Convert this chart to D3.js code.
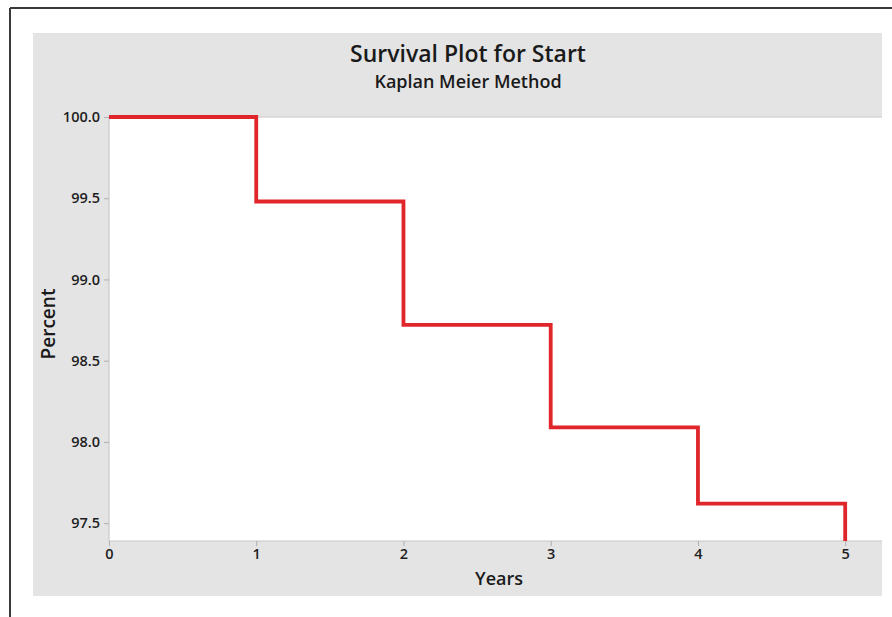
<!DOCTYPE html>
<html>
<head>
<meta charset="utf-8">
<script src="https://cdn.jsdelivr.net/npm/d3@7/dist/d3.min.js"></script>
<style>
  html, body { margin: 0; padding: 0; background: #fff; }
  svg { display: block; }
</style>
</head>
<body>
<svg id="chart" width="892" height="617"></svg>
<script>
// Data
const times = [0, 1, 2, 3, 4, 5];
const survival = [100.0, 99.48, 98.72, 98.09, 97.62, 97.0];
const xTicks = [0, 1, 2, 3, 4, 5];
const yTicks = [97.5, 98.0, 98.5, 99.0, 99.5, 100.0];
const titleText = "Survival Plot for Start";
const subtitleText = "Kaplan Meier Method";
const xLabel = "Years";
const yLabel = "Percent";

const svg = d3.select("#chart");
const font = "'Open Sans', 'Noto Sans', sans-serif";

// outer frame
svg.append("line").attr("x1", 10).attr("y1", 8).attr("x2", 892).attr("y2", 8)
  .attr("stroke", "#3a3a3a").attr("stroke-width", 2);
svg.append("line").attr("x1", 10).attr("y1", 8).attr("x2", 10).attr("y2", 617)
  .attr("stroke", "#3a3a3a").attr("stroke-width", 2);

// gray panel
svg.append("rect").attr("x", 33).attr("y", 33).attr("width", 849).attr("height", 563)
  .attr("fill", "#e4e4e4");

const plot = { left: 109, top: 117, right: 882, bottom: 541 };

const x = d3.scaleLinear().domain([0, 5.25]).range([plot.left, plot.right]);
const y = d3.scaleLinear().domain([97.39, 100.0]).range([plot.bottom, plot.top]);

svg.append("rect").attr("x", plot.left).attr("y", plot.top)
  .attr("width", plot.right - plot.left).attr("height", plot.bottom - plot.top)
  .attr("fill", "#ffffff");

svg.append("defs").append("clipPath").attr("id", "clip")
  .append("rect").attr("x", plot.left - 3).attr("y", plot.top - 3)
  .attr("width", plot.right - plot.left + 6).attr("height", plot.bottom - plot.top + 3);

// frame lines of plot
svg.append("line").attr("x1", plot.left).attr("x2", plot.right).attr("y1", plot.top).attr("y2", plot.top)
  .attr("stroke", "#c8c8c8").attr("stroke-width", 1.2);
svg.append("line").attr("x1", plot.left).attr("x2", plot.right).attr("y1", plot.bottom).attr("y2", plot.bottom)
  .attr("stroke", "#c8c8c8").attr("stroke-width", 1.2);
svg.append("line").attr("x1", plot.left).attr("x2", plot.left).attr("y1", plot.top).attr("y2", plot.bottom)
  .attr("stroke", "#c8c8c8").attr("stroke-width", 1.2);

// axes
const yAxis = d3.axisLeft(y).tickValues(yTicks).tickFormat(d3.format(".1f")).tickSize(5).tickPadding(4);
const gy = svg.append("g").attr("transform", `translate(${plot.left},0)`).call(yAxis);
gy.select(".domain").remove();
gy.selectAll(".tick line").attr("stroke", "#b0b0b0");
gy.selectAll(".tick text").attr("fill", "#1e1e1e").style("font-family", font)
  .style("font-size", "14.5px").style("font-weight", "600");

const xAxis = d3.axisBottom(x).tickValues(xTicks).tickFormat(d3.format("d")).tickSize(5).tickPadding(3);
const gx = svg.append("g").attr("transform", `translate(0,${plot.bottom})`).call(xAxis);
gx.select(".domain").remove();
gx.selectAll(".tick line").attr("stroke", "#b0b0b0");
gx.selectAll(".tick text").attr("fill", "#1e1e1e").style("font-family", font)
  .style("font-size", "14.5px").style("font-weight", "600");

// step line
const pts = times.map((t, i) => [t, survival[i]]);
const line = d3.line().x(d => x(d[0])).y(d => y(d[1])).curve(d3.curveStepAfter);
svg.append("path").datum(pts)
  .attr("clip-path", "url(#clip)")
  .attr("d", line)
  .attr("fill", "none").attr("stroke", "#e0262a").attr("stroke-width", 3.8)
  .attr("stroke-linejoin", "miter");

// titles
svg.append("text").attr("x", 468).attr("y", 62).attr("text-anchor", "middle")
  .style("font-family", font).style("font-size", "23px").style("font-weight", "600")
  .attr("fill", "#1a1a1a").text(titleText);
svg.append("text").attr("x", 468).attr("y", 88).attr("text-anchor", "middle")
  .style("font-family", font).style("font-size", "18px").style("font-weight", "600")
  .attr("fill", "#1a1a1a").text(subtitleText);

svg.append("text").attr("x", 499).attr("y", 585).attr("text-anchor", "middle")
  .style("font-family", font).style("font-size", "18px").style("font-weight", "600")
  .attr("fill", "#1a1a1a").text(xLabel);
svg.append("text").attr("transform", "translate(55,324) rotate(-90)").attr("text-anchor", "middle")
  .style("font-family", font).style("font-size", "19px").style("font-weight", "600")
  .attr("fill", "#1a1a1a").text(yLabel);
</script>
</body>
</html>
